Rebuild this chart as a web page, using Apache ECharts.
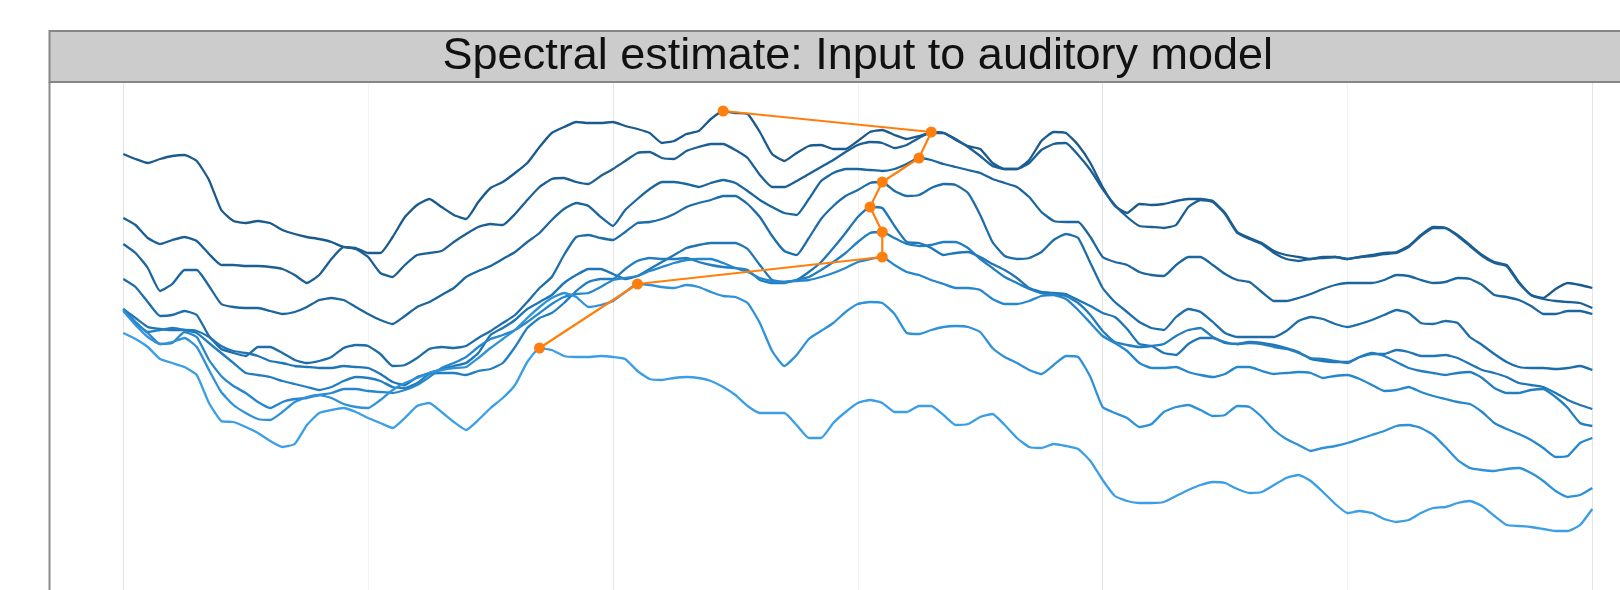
<!DOCTYPE html>
<html>
<head>
<meta charset="utf-8">
<title>Spectral estimate</title>
<script src="https://cdn.jsdelivr.net/npm/echarts@6/dist/echarts.min.js"></script>
<style>
  html, body { margin: 0; padding: 0; background: #ffffff; }
  #chart { width: 1620px; height: 590px; }
</style>
</head>
<body>
<div id="chart"></div>
<script>
// Spectral frames: level in dB (re. strongest peak) on a 0.05 kHz frequency grid, 0-6 kHz.
const freqStepKHz = 0.05;
const sampleCount = 121;
const frequencies = Array.from({ length: sampleCount }, (_, i) => +(i * freqStepKHz).toFixed(2));

const frame1 = [-4.0,-4.5,-4.9,-4.5,-4.2,-4.1,-4.7,-6.6,-9.6,-10.7,
  -10.9,-10.7,-10.9,-11.6,-12.0,-12.3,-12.5,-12.8,-13.3,-13.4,
  -13.9,-13.9,-12.3,-10.3,-9.1,-8.5,-9.3,-10.1,-10.5,-8.8,
  -7.4,-6.8,-5.9,-4.9,-3.3,-1.9,-1.3,-0.8,-0.9,-0.9,
  -0.8,-1.2,-1.5,-1.9,-2.9,-2.7,-2.0,-1.7,-0.5,0.3,
  0.1,0.0,-1.8,-4.0,-4.7,-3.9,-3.2,-3.1,-3.5,-3.5,
  -2.7,-1.8,-1.6,-2.1,-2.5,-2.2,-1.9,-1.9,-2.6,-3.2,
  -3.5,-4.9,-5.5,-5.5,-4.6,-2.7,-1.8,-1.9,-3.1,-4.9,
  -7.3,-9.2,-9.9,-9.0,-9.1,-9.0,-8.7,-8.5,-8.5,-8.7,
  -9.9,-11.8,-12.4,-12.9,-13.7,-14.1,-14.3,-14.5,-14.3,-14.3,
  -14.5,-14.3,-14.1,-13.9,-13.8,-13.2,-12.1,-11.3,-11.4,-12.1,
  -13.1,-14.1,-14.8,-15.1,-16.8,-18.1,-18.4,-17.5,-16.9,-17.1,-17.4];
const frame2 = [-10.4,-11.1,-12.4,-13.0,-12.6,-12.3,-12.7,-14.0,-15.1,-15.1,
  -15.2,-15.2,-15.3,-15.5,-16.1,-16.9,-16.1,-14.5,-13.3,-13.5,
  -14.3,-15.9,-16.3,-15.1,-14.1,-13.9,-13.7,-12.8,-12.0,-11.3,
  -11.0,-11.1,-10.0,-8.6,-7.3,-6.5,-6.4,-6.8,-7.0,-6.2,
  -5.5,-4.7,-3.9,-3.8,-4.4,-4.5,-3.7,-3.3,-3.0,-3.0,
  -3.6,-4.4,-6.1,-7.3,-7.3,-6.7,-6.0,-5.3,-4.6,-3.8,
  -3.1,-2.8,-2.9,-3.4,-3.1,-2.4,-1.8,-1.9,-2.5,-3.3,
  -4.2,-5.2,-5.5,-5.5,-4.9,-3.6,-3.0,-2.9,-4.1,-5.6,
  -7.5,-9.1,-10.3,-11.2,-11.3,-11.4,-11.1,-9.3,-8.6,-8.8,
  -10.0,-11.9,-12.5,-13.0,-13.9,-14.5,-14.7,-14.5,-14.4,-14.3,
  -14.5,-14.3,-14.2,-14.0,-13.9,-13.3,-12.2,-11.4,-11.4,-12.2,
  -13.2,-14.2,-14.9,-15.2,-16.9,-18.1,-18.5,-18.7,-18.8,-18.9,-19.4];
const frame3 = [-13.0,-13.9,-15.4,-17.7,-17.0,-15.6,-15.6,-17.2,-19.0,-19.3,
  -19.4,-19.4,-19.7,-20.0,-19.8,-19.3,-18.6,-18.4,-18.6,-19.3,
  -20.0,-20.6,-21.0,-20.2,-19.3,-18.8,-18.1,-17.4,-16.3,-15.7,
  -15.2,-14.5,-13.8,-12.8,-11.9,-10.6,-9.5,-8.9,-9.2,-10.3,
  -11.2,-9.6,-8.5,-7.5,-6.8,-6.8,-7.0,-7.3,-6.9,-6.6,
  -6.9,-7.7,-8.6,-9.3,-9.9,-10.1,-8.5,-6.7,-5.9,-5.5,
  -5.5,-5.6,-5.7,-5.5,-5.0,-4.4,-4.6,-5.0,-5.3,-5.6,
  -5.9,-6.5,-6.9,-7.3,-8.3,-9.8,-10.7,-10.8,-10.8,-12.3,
  -14.3,-14.8,-15.1,-15.8,-16.1,-16.2,-15.1,-14.3,-14.3,-15.1,
  -16.0,-16.6,-16.8,-17.8,-18.7,-18.7,-18.4,-18.0,-17.5,-17.1,
  -16.9,-16.9,-16.9,-16.6,-16.1,-16.2,-16.6,-16.9,-16.8,-16.4,
  -16.5,-17.1,-18.1,-18.3,-18.6,-19.2,-20.0,-20.0,-19.7,-19.7,-20.0];
const frame4 = [-16.5,-17.3,-18.8,-20.2,-20.1,-19.7,-20.1,-22.2,-23.5,-23.9,
  -24.2,-23.3,-23.3,-23.9,-24.6,-24.9,-24.7,-24.3,-23.4,-23.1,
  -23.2,-24.0,-25.2,-25.1,-24.4,-23.5,-23.3,-23.4,-23.2,-22.4,
  -21.7,-20.9,-20.1,-18.8,-17.4,-16.3,-14.1,-12.3,-12.1,-12.4,
  -12.6,-11.8,-10.9,-10.8,-10.5,-10.0,-9.3,-8.9,-8.6,-8.2,
  -8.2,-9.0,-10.3,-12.2,-13.7,-14.1,-12.4,-10.5,-9.2,-8.2,
  -7.6,-6.9,-6.8,-7.7,-8.2,-8.1,-7.4,-7.0,-7.1,-7.9,
  -10.1,-12.8,-14.2,-14.5,-14.4,-13.8,-12.6,-12.0,-12.4,-14.9,
  -17.4,-18.8,-19.8,-20.8,-21.4,-21.6,-20.3,-19.5,-19.8,-20.8,
  -21.9,-22.3,-22.3,-22.3,-22.3,-21.7,-20.7,-20.3,-20.5,-21.0,
  -21.3,-21.0,-20.6,-20.1,-19.6,-19.9,-20.9,-21.0,-20.7,-20.9,
  -22.3,-23.1,-24.0,-24.8,-25.3,-25.4,-25.4,-25.5,-25.4,-25.2,-25.6];
const frame5 = [-19.5,-20.4,-21.3,-21.5,-21.6,-21.6,-21.7,-22.3,-23.2,-23.7,
  -23.9,-24.2,-24.7,-24.9,-25.2,-25.3,-25.4,-25.4,-25.2,-25.3,
  -25.4,-26.0,-26.8,-27.1,-26.3,-25.9,-25.5,-25.2,-24.9,-23.9,
  -22.1,-21.4,-20.6,-19.5,-18.8,-18.1,-16.9,-16.1,-15.5,-15.5,
  -16.0,-16.5,-16.2,-15.5,-14.8,-14.1,-13.4,-13.1,-12.9,-12.9,
  -12.9,-13.5,-15.1,-16.6,-16.8,-16.6,-15.8,-14.8,-13.4,-11.9,
  -10.3,-9.3,-9.4,-11.2,-12.8,-12.9,-13.4,-14.1,-13.9,-13.8,
  -14.3,-15.0,-15.6,-16.4,-17.4,-17.8,-17.9,-18.0,-18.6,-19.2,
  -19.9,-20.3,-21.5,-23.0,-23.2,-23.9,-24.1,-23.0,-22.4,-22.4,
  -22.9,-23.0,-22.8,-22.9,-23.1,-23.4,-23.8,-24.5,-24.7,-24.8,
  -24.8,-24.3,-24.0,-24.0,-23.6,-23.8,-24.2,-24.2,-24.1,-24.4,
  -25.0,-25.6,-25.9,-26.3,-26.9,-27.1,-27.3,-27.9,-28.6,-29.1,-29.5];
const frame6 = [-19.5,-20.8,-21.8,-21.6,-21.4,-21.6,-21.9,-22.9,-23.9,-24.9,
  -25.9,-26.1,-26.3,-26.7,-27.0,-27.3,-27.6,-27.3,-26.7,-26.3,
  -26.4,-26.7,-27.3,-27.4,-26.9,-26.0,-25.9,-25.9,-26.1,-25.7,
  -25.5,-24.9,-23.3,-21.4,-20.4,-19.9,-18.9,-17.7,-16.8,-16.5,
  -16.5,-15.5,-14.7,-14.4,-14.5,-14.5,-14.4,-14.8,-15.1,-15.3,
  -15.4,-15.6,-16.6,-16.9,-16.9,-16.6,-16.3,-15.6,-14.8,-13.9,
  -12.8,-11.9,-11.8,-12.4,-13.0,-13.2,-13.1,-12.8,-12.8,-13.4,
  -14.5,-15.4,-16.3,-16.9,-17.5,-17.9,-18.0,-18.2,-18.9,-20.1,
  -21.7,-22.8,-23.1,-23.3,-23.2,-23.0,-22.2,-21.6,-21.4,-22.3,
  -22.8,-23.0,-22.9,-23.0,-23.3,-23.5,-23.9,-24.4,-24.5,-24.7,
  -24.9,-24.3,-23.9,-24.2,-24.8,-25.4,-25.7,-25.9,-26.1,-25.9,
  -25.8,-26.4,-27.4,-27.9,-27.9,-27.6,-27.5,-28.3,-29.4,-30.9,-31.2];
const frame7 = [-19.6,-20.9,-21.9,-23.0,-22.9,-21.8,-22.3,-24.6,-26.2,-27.2,
  -27.9,-28.8,-29.4,-28.8,-28.5,-28.4,-28.1,-27.9,-27.5,-27.5,
  -27.7,-27.8,-27.9,-27.6,-27.1,-26.3,-25.4,-24.9,-24.3,-23.3,
  -22.5,-22.1,-21.6,-20.8,-19.9,-19.0,-18.3,-18.0,-17.9,-17.3,
  -16.6,-16.4,-16.2,-15.7,-15.3,-14.9,-14.6,-14.5,-14.5,-14.9,
  -15.4,-15.8,-16.4,-16.7,-16.8,-16.7,-16.6,-16.3,-15.9,-15.4,
  -14.8,-14.5,-14.3,-15.1,-15.8,-16.1,-16.6,-17.0,-17.4,-17.4,
  -17.6,-18.5,-19.0,-19.0,-18.7,-18.2,-18.1,-18.5,-19.6,-20.9,
  -22.2,-22.9,-23.7,-24.9,-25.4,-25.4,-25.3,-25.8,-26.1,-26.3,
  -26.0,-25.3,-25.3,-25.7,-26.0,-25.9,-25.8,-25.9,-26.4,-26.2,
  -26.1,-26.5,-27.1,-27.7,-27.6,-27.3,-27.8,-28.2,-28.5,-28.8,
  -29.0,-29.8,-30.9,-31.5,-32.0,-32.6,-33.4,-34.3,-34.2,-32.9,-32.4];
const frame8 = [-19.7,-21.1,-22.3,-23.0,-22.8,-22.4,-23.3,-25.6,-27.8,-29.1,
  -29.9,-30.5,-30.6,-29.8,-28.8,-28.3,-28.1,-28.4,-29.0,-29.3,
  -29.4,-28.6,-27.6,-26.9,-26.4,-25.9,-25.6,-25.4,-25.3,-24.4,
  -23.4,-22.5,-21.6,-20.4,-19.3,-18.4,-17.9,-18.3,-19.3,-19.1,
  -18.7,-17.8,-17.0,-17.1,-17.3,-17.4,-17.1,-17.3,-17.8,-18.2,
  -18.3,-18.9,-20.9,-23.7,-25.2,-24.1,-22.5,-21.7,-20.9,-19.8,
  -19.0,-18.8,-18.9,-20.0,-21.9,-22.0,-21.6,-21.3,-21.2,-21.3,
  -21.8,-23.4,-24.3,-24.9,-25.6,-26.0,-25.1,-24.2,-24.3,-26.3,
  -29.3,-29.9,-30.4,-31.3,-31.0,-29.8,-29.3,-29.1,-29.6,-30.2,
  -30.1,-29.2,-29.3,-30.3,-31.6,-32.5,-33.1,-33.7,-33.4,-33.2,
  -32.9,-32.5,-32.1,-31.7,-31.2,-31.1,-31.4,-32.1,-33.3,-34.6,
  -35.4,-35.6,-35.7,-35.5,-35.4,-35.9,-36.7,-37.7,-38.3,-38.1,-37.4];
const frame9 = [-21.9,-22.5,-23.3,-24.5,-24.9,-25.3,-26.1,-28.9,-30.7,-30.8,
  -31.3,-31.9,-32.7,-33.3,-33.0,-31.1,-29.9,-29.6,-29.4,-29.8,
  -30.4,-30.9,-31.4,-30.4,-29.2,-28.9,-29.8,-30.8,-31.6,-30.6,
  -29.4,-28.4,-27.1,-24.8,-23.4,-23.6,-24.2,-24.3,-24.3,-24.2,
  -24.3,-24.5,-25.7,-26.5,-26.6,-26.4,-26.3,-26.4,-26.7,-27.3,
  -28.1,-29.2,-29.9,-29.9,-29.9,-31.1,-32.4,-32.4,-30.9,-29.8,
  -28.9,-28.6,-28.9,-29.8,-29.8,-29.2,-29.2,-30.1,-31.1,-31.0,
  -30.3,-30.0,-31.1,-32.4,-33.3,-33.4,-33.0,-33.2,-33.5,-34.7,
  -36.6,-38.2,-38.7,-38.9,-38.9,-38.8,-38.2,-37.6,-37.1,-36.8,
  -36.9,-37.5,-37.9,-37.8,-37.1,-36.4,-36.1,-36.7,-37.8,-39.0,
  -39.9,-39.7,-39.9,-40.5,-40.8,-40.6,-39.9,-39.4,-39.3,-38.9,
  -38.7,-39.2,-40.2,-41.1,-41.2,-41.3,-41.5,-41.7,-41.7,-41.1,-39.5];

const frames = [frame1, frame2, frame3, frame4, frame5, frame6, frame7, frame8, frame9];
const frameColors = ['#1a5a8c', '#1b5f95', '#1c669f', '#1d6da9', '#1f75b5', '#227ec1', '#2787cd', '#2f92d9', '#3b9ee6'];
const peakColor = '#ff7f0e';
const peakSearchFromKHz = 1.0;
const titleText = 'Spectral estimate: Input to auditory model';

// strongest component of each frame above the search floor
const peakTrack = frames.map(levels => {
  let best = -1;
  levels.forEach((v, i) => {
    if (frequencies[i] >= peakSearchFromKHz && (best < 0 || v > levels[best])) best = i;
  });
  return [frequencies[best], levels[best]];
});

const chart = echarts.init(document.getElementById('chart'), null, { renderer: 'canvas' });

const series = frames.map((levels, k) => ({
  type: 'line',
  name: 'frame ' + (k + 1),
  data: frequencies.map((f, i) => [f, levels[i]]),
  showSymbol: false,
  symbol: 'none',
  smooth: 0.15,
  lineStyle: { width: 2.3, color: frameColors[k] },
  itemStyle: { color: frameColors[k] },
  emphasis: { disabled: true },
  z: 2
}));

series.push({
  type: 'line',
  name: 'peak',
  data: peakTrack,
  symbol: 'circle',
  symbolSize: 11,
  showSymbol: true,
  lineStyle: { width: 2.2, color: peakColor },
  itemStyle: { color: peakColor },
  emphasis: { disabled: true },
  z: 5
});

chart.setOption({
  animation: false,
  backgroundColor: '#ffffff',
  grid: { left: 123.3, right: 27.7, top: 82, bottom: 0, containLabel: false },
  xAxis: {
    type: 'value', min: 0, max: 6, interval: 2,
    axisLine: { show: false }, axisTick: { show: false }, axisLabel: { show: false },
    splitLine: { show: true, lineStyle: { color: '#e4e4e4', width: 1 } },
    minorTick: { show: false, splitNumber: 2 },
    minorSplitLine: { show: true, lineStyle: { color: '#f3f3f3', width: 1 } }
  },
  yAxis: {
    type: 'value', min: -47.6, max: 3.2,
    axisLine: { show: false }, axisTick: { show: false }, axisLabel: { show: false },
    splitLine: { show: false }
  },
  graphic: [
    {
      type: 'line', z: 10,
      shape: { x1: 49.5, y1: 82, x2: 49.5, y2: 600 },
      style: { stroke: '#8c8c8c', lineWidth: 2 }
    },
    {
      type: 'rect', z: 10,
      shape: { x: 49.5, y: 31, width: 1700, height: 51 },
      style: { fill: '#cccccc', stroke: '#868686', lineWidth: 2 }
    },
    {
      type: 'text', z: 11,
      x: 857.8, y: 57,
      style: {
        text: titleText,
        font: '45px "Liberation Sans", Arial, sans-serif',
        fill: '#111111',
        align: 'center',
        verticalAlign: 'middle'
      }
    }
  ],
  series: series
});
</script>
</body>
</html>
